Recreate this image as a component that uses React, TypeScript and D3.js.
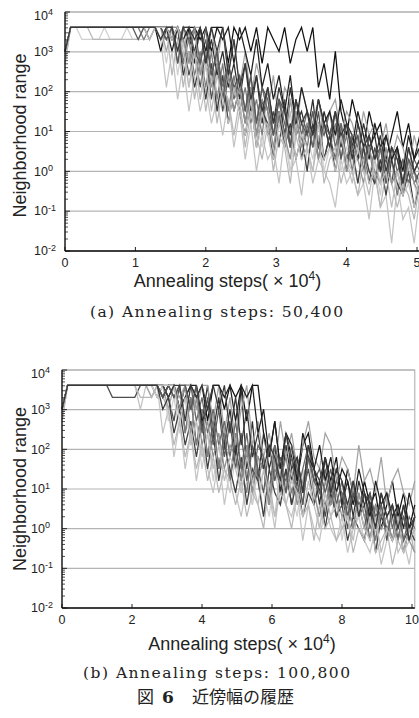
import React from 'react';
import * as d3 from 'd3';

// total annealing steps of each run set
const stepsA = 50400;
const stepsB = 100800;

const xTicksA = [0, 1, 2, 3, 4, 5];
const xTicksB = [0, 2, 4, 6, 8, 10];
const yDecades = [-2, -1, 0, 1, 2, 3, 4];

const captionA = '(a) Annealing steps: 50,400';
const captionB = '(b) Annealing steps: 100,800';

// neighborhood range of each run, written as log2 of the value,
// 64 samples spread evenly over the run
const a1 = [9, 12, 12, 12, 12, 12, 12, 12, 12, 12, 12, 12, 12, 12, 12, 12,
  12, 11, 7, 10, 6, 9, 5, 8, 5, 7, 4, 6, 3, 6, 2, 5,
  1, 4, 0, 3, 1, 2, -1, 3, 0, 1, -2, 2, -1, 1, 0, -1,
  -3, 1, -1, 0, -2, -1, -4, 0, -3, -2, -6, -1, -4, -3, -6, -2];
const a2 = [10, 12, 12, 12, 12, 12, 12, 12, 12, 12, 12, 12, 12, 12, 12, 12,
  12, 10, 12, 11, 12, 9, 12, 12, 11, 12, 10, 12, 12, 9, 12, 11,
  12, 10, 12, 9, 12, 11, 10, 12, 9, 11, 12, 10, 12, 7, 9, 6,
  10, 5, 3, 6, 4, 2, 5, 3, 4, 1, 3, 5, 2, 4, 1, 3];
const a3 = [10, 12, 12, 12, 12, 12, 12, 12, 12, 12, 12, 12, 12, 12, 12, 11,
  12, 12, 12, 12, 9, 11, 8, 10, 7, 10, 6, 9, 5, 8, 5, 7,
  4, 7, 3, 6, 3, 5, 2, 6, 2, 5, 1, 4, 2, 5, 1, 3,
  1, 4, 0, 3, 1, 2, -1, 2, 0, 1, -1, 2, -2, 1, -1, 0];
const a4 = [9, 12, 12, 11, 11, 11, 11, 12, 11, 11, 11, 12, 11, 11, 11, 11,
  12, 12, 9, 12, 8, 11, 7, 10, 6, 9, 8, 5, 8, 4, 7, 5,
  3, 6, 4, 2, 5, 1, 4, 3, 0, 4, 2, 3, 1, 4, 0, 2,
  3, 0, 2, 1, -1, 3, 0, 1, -2, 2, -1, 0, -2, 1, -1, -3];
const a5 = [10, 12, 12, 12, 12, 12, 12, 12, 12, 12, 12, 12, 12, 12, 12, 12,
  12, 11, 12, 12, 10, 12, 11, 10, 12, 9, 11, 8, 10, 7, 9, 6,
  9, 5, 8, 4, 7, 4, 6, 3, 7, 4, 5, 3, 6, 2, 5, 3,
  5, 2, 4, 3, 1, 4, 2, 3, 0, 3, 1, 2, -1, 2, 0, 1];
const a6 = [10, 12, 12, 12, 12, 12, 12, 12, 12, 12, 12, 12, 12, 12, 11, 12,
  12, 12, 12, 12, 12, 9, 11, 8, 10, 7, 10, 6, 9, 5, 8, 5,
  7, 4, 6, 3, 7, 3, 5, 2, 6, 3, 4, 2, 5, 1, 4, 2,
  4, 1, 3, 0, 3, 1, 2, -1, 2, 0, 1, -2, 1, -1, 0, -2];
const a7 = [10, 12, 12, 12, 12, 12, 12, 12, 12, 12, 12, 12, 12, 12, 12, 12,
  12, 12, 10, 12, 11, 12, 9, 12, 12, 10, 12, 9, 12, 8, 11, 7,
  10, 6, 9, 7, 5, 8, 4, 7, 6, 3, 7, 5, 4, 6, 3, 5,
  6, 3, 5, 4, 2, 5, 3, 4, 2, 4, 1, 3, 2, 0, 3, 1];
const a8 = [10, 12, 12, 12, 12, 12, 12, 12, 12, 12, 12, 12, 12, 12, 12, 12,
  12, 12, 12, 11, 12, 8, 10, 7, 9, 6, 9, 5, 8, 4, 7, 5,
  3, 6, 2, 5, 4, 1, 5, 2, 4, 1, 3, 0, 4, 2, 1, 3,
  0, 3, 1, 2, -1, 2, 0, -1, 1, -2, 1, -1, -2, 0, -3, -1];
const a9 = [10, 12, 12, 12, 12, 12, 12, 12, 12, 12, 12, 12, 12, 12, 12, 12,
  12, 12, 11, 12, 10, 12, 11, 12, 9, 11, 8, 10, 7, 9, 6, 8,
  5, 8, 4, 7, 5, 3, 6, 4, 2, 6, 3, 5, 2, 4, 3, 5,
  2, 4, 1, 3, 2, 0, 3, 1, 2, -1, 2, 0, 1, -1, 1, 0];
const a10 = [9, 12, 12, 12, 12, 11, 11, 11, 11, 11, 11, 11, 11, 11, 12, 11,
  12, 11, 12, 8, 11, 7, 10, 6, 9, 5, 8, 4, 7, 6, 3, 6,
  2, 5, 3, 1, 4, 0, 3, 2, -1, 3, 1, 2, 0, 3, -1, 1,
  2, -1, 1, 0, -2, 1, -1, 0, -3, 0, -1, -3, -1, -2, -4, -1];
const a11 = [10, 12, 12, 12, 12, 12, 12, 12, 12, 12, 12, 12, 12, 12, 12, 12,
  12, 12, 12, 10, 12, 11, 12, 9, 12, 10, 12, 12, 11, 12, 9, 12,
  10, 8, 11, 7, 9, 6, 8, 5, 8, 4, 7, 5, 3, 6, 4, 5,
  3, 6, 4, 2, 5, 3, 1, 4, 2, 3, 1, 2, 0, 3, 1, 2];
const a12 = [10, 12, 12, 12, 12, 12, 12, 12, 12, 12, 12, 12, 12, 12, 12, 12,
  12, 12, 11, 12, 12, 11, 9, 12, 8, 10, 7, 9, 6, 8, 5, 7,
  4, 7, 3, 6, 5, 2, 5, 3, 1, 5, 2, 4, 3, 1, 4, 2,
  1, 3, 0, 2, 1, -1, 2, 0, -1, 2, -1, 0, -2, 1, -1, -2];
const a13 = [10, 12, 12, 12, 12, 12, 12, 12, 12, 12, 12, 12, 12, 11, 12, 12,
  12, 12, 11, 12, 9, 12, 12, 10, 9, 12, 8, 10, 6, 9, 7, 8,
  5, 8, 4, 7, 6, 3, 6, 5, 2, 6, 4, 3, 5, 2, 4, 3,
  5, 1, 4, 2, 3, 0, 3, 1, 2, -1, 2, 1, -1, 1, 0, -1];
const a14 = [10, 12, 12, 12, 12, 12, 12, 12, 12, 12, 12, 12, 12, 12, 12, 12,
  12, 12, 12, 11, 12, 10, 7, 10, 6, 9, 5, 8, 6, 4, 7, 5,
  3, 6, 2, 5, 3, 1, 4, 2, 5, 1, 3, 2, 0, 4, 1, 2,
  0, 3, 1, -1, 2, 0, -2, 1, -1, 0, -3, 0, -2, -1, -3, 0];
const a15 = [10, 12, 12, 12, 12, 12, 12, 12, 12, 12, 12, 12, 12, 12, 12, 12,
  12, 11, 12, 12, 10, 12, 12, 11, 12, 9, 12, 10, 12, 8, 11, 7,
  9, 6, 8, 5, 7, 4, 7, 5, 3, 6, 4, 5, 3, 6, 4, 2,
  5, 3, 4, 1, 4, 2, 3, 1, 3, 0, 2, 1, -1, 2, 0, 1];

const b1 = [9, 12, 12, 12, 12, 12, 12, 12, 12, 12, 12, 12, 12, 12, 10, 12,
  11, 12, 8, 10, 6, 9, 5, 8, 4, 7, 5, 3, 6, 2, 5, 3,
  1, 4, 2, 5, 1, 3, 0, 4, 2, 1, 3, -1, 2, 0, -1, 2,
  0, -1, 1, -2, 0, 1, -1, -2, 0, -3, -1, 1, -2, -1, -3, 0];
const b2 = [10, 12, 12, 12, 12, 12, 12, 12, 12, 12, 12, 12, 12, 12, 12, 12,
  12, 12, 12, 11, 12, 10, 12, 12, 11, 12, 9, 12, 12, 10, 12, 11,
  12, 9, 12, 12, 8, 6, 9, 5, 8, 6, 4, 7, 8, 5, 3, 6,
  4, 6, 2, 5, 3, 1, 4, 2, 3, 0, 2, 4, 1, 3, 0, 2];
const b3 = [10, 12, 12, 12, 12, 12, 12, 12, 12, 11, 11, 11, 11, 11, 12, 12,
  12, 11, 12, 11, 9, 12, 8, 11, 7, 10, 6, 9, 5, 8, 4, 7,
  4, 7, 3, 6, 5, 2, 6, 3, 5, 2, 6, 3, 5, 2, 4, 1,
  4, 1, 3, 0, 3, 1, 2, -1, 2, 0, 1, -1, 2, -1, 0, 1];
const b4 = [9, 12, 12, 12, 12, 12, 12, 12, 12, 12, 12, 12, 12, 12, 12, 12,
  12, 11, 12, 9, 11, 8, 10, 7, 9, 5, 8, 4, 7, 5, 3, 6,
  3, 5, 2, 6, 3, 1, 5, 2, 4, 3, 1, 5, 2, 4, 0, 3,
  1, 3, -1, 2, 0, 1, -1, 2, -2, 1, 0, -1, 1, -2, 0, -1];
const b5 = [10, 12, 12, 12, 12, 12, 12, 12, 12, 12, 12, 12, 12, 12, 12, 12,
  12, 12, 11, 12, 11, 12, 12, 10, 12, 9, 12, 8, 11, 7, 10, 6,
  12, 5, 9, 4, 8, 5, 7, 3, 7, 4, 6, 3, 7, 5, 2, 6,
  3, 5, 2, 4, 1, 4, 2, 3, 0, 3, 1, 2, -1, 2, 0, 1];
const b6 = [10, 12, 12, 12, 12, 12, 12, 12, 12, 12, 12, 12, 12, 12, 12, 12,
  12, 12, 12, 12, 11, 12, 8, 11, 7, 10, 6, 9, 5, 8, 4, 8,
  5, 3, 7, 4, 6, 2, 5, 4, 6, 3, 5, 2, 6, 4, 3, 2,
  4, 1, 3, 2, 0, 3, 1, 2, -1, 2, 0, 1, -1, 1, -1, 0];
const b7 = [10, 12, 12, 12, 12, 12, 12, 12, 12, 12, 12, 12, 12, 12, 12, 12,
  11, 12, 12, 10, 12, 11, 12, 12, 10, 12, 12, 9, 12, 8, 11, 7,
  10, 12, 7, 9, 6, 8, 5, 9, 6, 8, 5, 7, 9, 6, 5, 8,
  7, 4, 6, 5, 3, 7, 4, 5, 3, 6, 2, 4, 5, 3, 2, 4];
const b8 = [10, 12, 12, 12, 12, 12, 12, 12, 12, 12, 12, 12, 12, 12, 12, 12,
  12, 12, 12, 11, 8, 10, 7, 9, 6, 9, 5, 8, 4, 7, 5, 3,
  6, 2, 5, 4, 1, 5, 3, 2, 5, 2, 4, 1, 3, 2, 4, 0,
  3, 1, 2, -1, 1, 0, -1, 2, -2, 1, 0, -1, 1, -2, 0, -1];
const b9 = [10, 12, 12, 12, 12, 12, 12, 12, 12, 12, 12, 12, 12, 12, 12, 12,
  12, 12, 11, 12, 12, 10, 11, 12, 9, 11, 8, 10, 7, 9, 6, 9,
  5, 8, 4, 7, 6, 3, 7, 5, 4, 6, 3, 5, 7, 4, 3, 5,
  2, 4, 3, 1, 4, 2, 3, 0, 2, 1, 3, 0, 2, -1, 1, 0];
const b10 = [9, 12, 12, 12, 12, 12, 12, 12, 12, 12, 12, 12, 12, 12, 11, 11,
  11, 12, 11, 10, 7, 9, 6, 8, 5, 7, 4, 6, 3, 5, 4, 2,
  4, 1, 3, 2, 0, 4, 1, 3, 2, 0, 3, 1, 2, -1, 2, 0,
  1, -1, 0, 1, -2, 0, -1, 1, -2, -1, 0, -3, -1, -2, 0, -2];
const b11 = [10, 12, 12, 12, 12, 12, 12, 12, 12, 12, 12, 12, 12, 12, 12, 12,
  12, 12, 11, 12, 12, 10, 11, 12, 12, 9, 10, 12, 12, 11, 12, 9,
  12, 11, 12, 8, 10, 6, 9, 5, 8, 7, 4, 8, 6, 5, 7, 4,
  6, 3, 5, 4, 2, 5, 3, 1, 4, 2, 3, 1, 2, 0, 3, 1];
const b12 = [10, 12, 12, 12, 12, 12, 12, 12, 12, 12, 12, 12, 12, 12, 12, 12,
  12, 12, 12, 12, 12, 10, 12, 8, 11, 7, 9, 6, 8, 5, 7, 6,
  4, 7, 3, 6, 5, 2, 6, 4, 3, 5, 2, 4, 6, 3, 1, 4,
  2, 3, 1, 2, 0, 3, 1, -1, 2, 0, 1, -1, 0, 1, -1, -2];
const b13 = [10, 12, 12, 12, 12, 12, 12, 12, 12, 12, 12, 12, 12, 12, 12, 12,
  12, 12, 11, 12, 11, 12, 12, 10, 12, 8, 11, 7, 10, 6, 9, 5,
  8, 4, 7, 5, 3, 7, 4, 6, 3, 7, 5, 2, 6, 4, 5, 3,
  5, 2, 4, 1, 3, 2, 0, 3, 1, 2, -1, 2, 0, 1, -1, 1];
const b14 = [10, 12, 12, 12, 12, 12, 12, 12, 12, 12, 12, 12, 12, 12, 12, 12,
  12, 12, 12, 12, 12, 9, 11, 7, 9, 6, 8, 5, 7, 4, 6, 5,
  3, 6, 4, 2, 5, 3, 1, 5, 2, 4, 3, 1, 4, 2, 0, 3,
  1, 2, 0, 1, -1, 2, 0, -1, 1, -2, 0, -1, 1, -2, -1, 0];
const b15 = [10, 12, 12, 12, 12, 12, 12, 12, 12, 12, 12, 12, 12, 12, 12, 12,
  12, 12, 10, 11, 12, 12, 9, 12, 11, 12, 10, 12, 10, 12, 8, 11,
  7, 10, 6, 8, 5, 7, 6, 4, 8, 5, 6, 3, 7, 5, 4, 6,
  3, 5, 4, 2, 4, 1, 3, 2, 0, 3, 1, 2, 0, 2, -1, 1];

const runsA = [a1, a2, a3, a4, a5, a6, a7, a8, a9, a10, a11, a12, a13, a14, a15];
const runsB = [b1, b2, b3, b4, b5, b6, b7, b8, b9, b10, b11, b12, b13, b14, b15];

const grays = ['#c4c4c4', '#111111', '#4d4d4d', '#cfcfcf', '#2e2e2e', '#7d7d7d',
  '#a3a3a3', '#3d3d3d', '#676767', '#b8b8b8', '#1f1f1f', '#909090',
  '#595959', '#bdbdbd', '#383838'];

const sans = '"Liberation Sans", Arial, Helvetica, sans-serif';
const serif = '"DejaVu Serif", "Liberation Serif", serif';

type PanelProps = {
  runs: number[][];
  steps: number;
  xTicks: number[];
  left: number;
  top: number;
  pxPerUnit: number;
  bottom: number;
  xLabelX: number;
  xLabelY: number;
  yLabelY: number;
};

function Panel(props: PanelProps) {
  const {runs, steps, xTicks, left, top, pxPerUnit, bottom, xLabelX, xLabelY, yLabelY} = props;
  const xMax = steps / 1e4;
  const right = left + xMax * pxPerUnit;

  const x = d3.scaleLinear().domain([0, xMax]).range([left, right]);
  const y = d3.scaleLog().domain([1e-2, 1e4]).range([bottom, top]);

  const minor = y.ticks().filter(v => {
    const e = Math.log10(v);
    return Math.abs(e - Math.round(e)) > 1e-6;
  });

  const paths = runs.map(run => {
    const dx = xMax / (run.length - 1);
    const line = d3.line<number>()
      .x((_, i) => x(i * dx))
      .y(e => y(Math.pow(2, e)));
    return line(run) || '';
  });

  return (
    <g>
      <rect x={left} y={top} width={right - left} height={bottom - top}
        fill="none" stroke="#a8a8a8" strokeWidth={1} />
      {yDecades.map(k => (
        <line key={'g' + k} x1={left} x2={right} y1={y(Math.pow(10, k))} y2={y(Math.pow(10, k))}
          stroke="#b4b4b4" strokeWidth={1.1} />
      ))}
      <g fill="none" strokeWidth={1.25} strokeLinejoin="miter">
        {paths.map((d, i) => (
          <path key={i} d={d} stroke={grays[i % grays.length]} />
        ))}
      </g>
      {minor.map((v, i) => (
        <line key={'m' + i} x1={left} x2={left + 3} y1={y(v)} y2={y(v)} stroke="#222" strokeWidth={0.8} />
      ))}
      {yDecades.map(k => (
        <line key={'t' + k} x1={left} x2={left + 5} y1={y(Math.pow(10, k))} y2={y(Math.pow(10, k))}
          stroke="#222" strokeWidth={1} />
      ))}
      {xTicks.map(t => (
        <line key={'xt' + t} x1={x(t)} x2={x(t)} y1={bottom} y2={bottom - 4} stroke="#222" strokeWidth={1} />
      ))}
      <line x1={left} x2={left} y1={top} y2={bottom} stroke="#111" strokeWidth={1.3} />
      <line x1={left} x2={right} y1={bottom} y2={bottom} stroke="#111" strokeWidth={1.3} />

      {yDecades.map(k => (
        <text key={'yl' + k} x={left - 31} y={y(Math.pow(10, k)) + (k === 4 ? 7.5 : 4.2)}
          fontFamily={sans} fontSize={12.5} fill="#222">
          10<tspan dy={-4.5} fontSize={9}>{k < 0 ? '-' + (-k) : k}</tspan>
        </text>
      ))}
      {xTicks.map(t => (
        <text key={'xl' + t} x={x(t)} y={bottom + 15.5} textAnchor="middle"
          fontFamily={sans} fontSize={12.5} fill="#222">{t}</text>
      ))}

      <text x={xLabelX} y={xLabelY} textAnchor="middle" fontFamily={sans} fontSize={18} fill="#222">
        Annealing steps( × 10<tspan dy={-7} fontSize={12}>4</tspan><tspan dy={7}>)</tspan>
      </text>
      <text transform={`translate(26,${yLabelY}) rotate(-90)`} textAnchor="middle"
        fontFamily={sans} fontSize={18} fill="#222">Neighborhood range</text>
    </g>
  );
}

export default function App() {
  return (
    <svg width={419} height={718} style={{position: 'absolute', left: 0, top: 0, background: '#fff'}}>
      <Panel runs={runsA} steps={stepsA} xTicks={xTicksA} left={65} top={12} bottom={251}
        pxPerUnit={70.4} xLabelX={227.5} xLabelY={287} yLabelY={135.5} />
      <text x={216.5} y={317} textAnchor="middle" fontFamily={serif} fontSize={15.5}
        textLength={253} lengthAdjust="spacing" fill="#222">{captionA}</text>

      <Panel runs={runsB} steps={stepsB} xTicks={xTicksB} left={62} top={370} bottom={608}
        pxPerUnit={35} xLabelX={242} xLabelY={649.5} yLabelY={489} />
      <text x={216.5} y={678} textAnchor="middle" fontFamily={serif} fontSize={15.5}
        textLength={267} lengthAdjust="spacing" fill="#222">{captionB}</text>

      <text y={703} fontFamily={'"Noto Sans CJK JP", sans-serif'} fontSize={17} fill="#222">
        <tspan x={137}>図</tspan>
        <tspan x={162} fontFamily={serif} fontWeight="bold">6</tspan>
        <tspan x={192}>近傍幅の履歴</tspan>
      </text>
    </svg>
  );
}
